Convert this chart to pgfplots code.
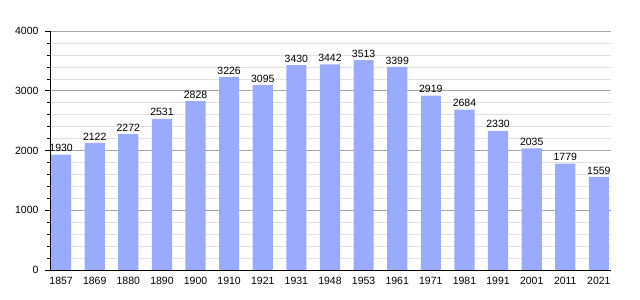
\documentclass[border=0pt]{standalone}
\usepackage{pgfplots}
\pgfplotsset{compat=1.18}
\usepackage{fontspec}
\setmainfont{Liberation Sans}
\definecolor{barblue}{HTML}{99AAFF}
\begin{document}
\begin{tikzpicture}
\path[use as bounding box] (0,0) rectangle (640bp,300bp);
\begin{axis}[
  at={(50bp,30bp)}, anchor=south west,
  scale only axis, width=561bp, height=239bp,
  xmin=-0.33, xmax=16.36, ymin=0, ymax=4000,
  xtick={0,...,16},
  xticklabels={1857,1869,1880,1890,1900,1910,1921,1931,1948,1953,1961,1971,1981,1991,2001,2011,2021},
  ytick={0,1000,2000,3000,4000},
  minor y tick num=4,
  axis x line=bottom, axis y line=left,
  axis line style={-, black, line width=0.8pt},
  x tick style={draw=none},
  y tick style={black, line width=0.6pt},
  major tick length=5bp, minor tick length=3bp,
  tick align=outside,
  ymajorgrids, yminorgrids,
  major grid style={draw=black!35, line width=0.6pt},
  minor grid style={draw=black!12, line width=0.5pt},
  ticklabel style={font=\fontsize{10.5bp}{12bp}\selectfont},
  yticklabel style={xshift=-3bp},
  xticklabel style={yshift=1bp},
  /pgf/number format/assume math mode=true,
  /pgf/number format/1000 sep={},
  scaled y ticks=false,
  nodes near coords,
  every node near coord/.style={font=\fontsize{10.5bp}{12bp}\selectfont, black, inner sep=2.5bp, /pgf/number format/1000 sep={}},
]
\addplot[ybar, bar width=0.6, fill=barblue, draw=none] coordinates {
(0,1930) (1,2122) (2,2272) (3,2531) (4,2828) (5,3226) (6,3095) (7,3430) (8,3442)
(9,3513) (10,3399) (11,2919) (12,2684) (13,2330) (14,2035) (15,1779) (16,1559)};
\end{axis}
\end{tikzpicture}
\end{document}
